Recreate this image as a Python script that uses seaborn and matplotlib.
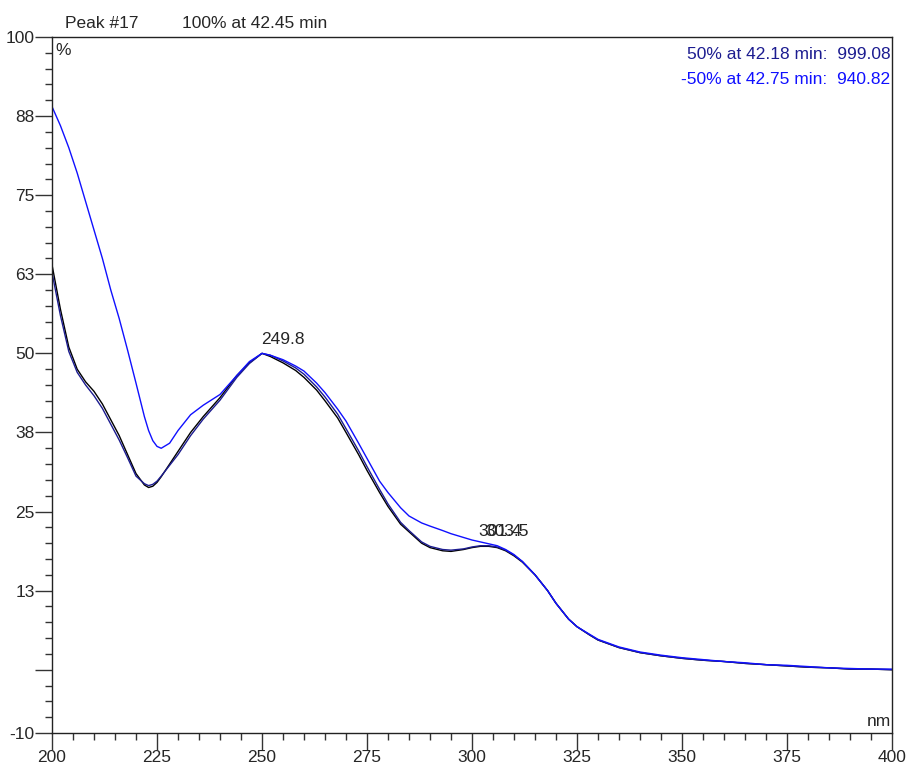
import numpy as np
import pandas as pd
import seaborn as sns
import matplotlib.pyplot as plt
from matplotlib.ticker import MultipleLocator, FixedLocator

# wavelength grid (nm) and the three spectra (% of max)
wavelengths = [200, 202, 204, 206, 208, 210, 212, 214, 216, 218, 220, 222, 223, 224, 225, 226, 228, 230,
               233, 236, 240, 244, 247, 250, 252, 255, 258, 260, 263, 265, 268, 270, 273, 275, 278, 280,
               283, 285, 288, 290, 293, 295, 298, 300, 302, 304, 306, 308, 310, 312, 315, 318, 320, 323,
               325, 328, 330, 335, 340, 345, 350, 355, 360, 365, 370, 375, 380, 385, 390, 395, 400]
peak_apex = [64.0, 57.0, 51.0, 47.5, 45.5, 44.0, 42.0, 39.5, 37.0, 34.0, 31.0, 29.2, 28.8, 29.0, 29.6, 30.5,
             32.5, 34.5, 37.5, 40.0, 43.0, 46.5, 48.5, 50.0, 49.5, 48.5, 47.3, 46.2, 44.2, 42.5, 39.8, 37.5,
             34.0, 31.5, 28.0, 25.8, 23.0, 21.8, 20.0, 19.3, 18.8, 18.7, 19.0, 19.3, 19.5, 19.5, 19.3, 18.8,
             18.0, 17.0, 15.0, 12.5, 10.5, 8.0, 6.8, 5.5, 4.7, 3.5, 2.7, 2.2, 1.8, 1.5, 1.3, 1.0, 0.8, 0.6,
             0.4, 0.3, 0.1, 0.1, 0.0]
upslope_50 = [62.8, 56.0, 50.3, 47.0, 45.0, 43.3, 41.3, 38.8, 36.3, 33.5, 30.6, 29.4, 29.1, 29.3, 29.8, 30.6,
              32.3, 34.0, 37.0, 39.6, 42.6, 46.2, 48.4, 50.0, 49.7, 48.8, 47.7, 46.7, 44.7, 43.1, 40.4, 38.1,
              34.6, 32.1, 28.5, 26.2, 23.3, 22.0, 20.2, 19.5, 19.0, 18.9, 19.1, 19.4, 19.6, 19.6, 19.4, 18.9,
              18.1, 17.1, 15.0, 12.5, 10.5, 8.0, 6.8, 5.5, 4.7, 3.5, 2.7, 2.2, 1.8, 1.5, 1.3, 1.0, 0.8, 0.6,
              0.4, 0.3, 0.1, 0.1, 0.0]
downslope_50 = [89.0, 86.0, 82.5, 78.5, 74.0, 69.5, 65.0, 60.0, 55.5, 50.5, 45.3, 40.0, 37.8, 36.2, 35.3, 35.0,
                35.8, 37.8, 40.3, 41.8, 43.5, 46.5, 48.7, 50.0, 49.7, 49.0, 48.0, 47.2, 45.3, 43.8, 41.2, 39.3,
                35.8, 33.4, 29.8, 28.0, 25.6, 24.3, 23.2, 22.7, 22.0, 21.5, 20.9, 20.5, 20.2, 19.9, 19.6, 19.0,
                18.2, 17.1, 15.0, 12.5, 10.5, 8.0, 6.8, 5.6, 4.8, 3.6, 2.8, 2.3, 1.9, 1.6, 1.3, 1.1, 0.8, 0.7,
                0.5, 0.3, 0.2, 0.1, 0.1]

y_major = [100, 87.5, 75, 62.5, 50, 37.5, 25, 12.5, 0, -10]
y_labels = ['100', '88', '75', '63', '50', '38', '25', '13', '', '-10']

sns.set_style('ticks')
plt.rcParams['font.family'] = ['Liberation Sans', 'DejaVu Sans']

fig = plt.figure(figsize=(9.12, 7.69), dpi=100)
ax = fig.add_axes([52 / 912, 36 / 769, 840 / 912, 696 / 769])

df = pd.DataFrame({'nm': wavelengths, 'apex': peak_apex, 'up': upslope_50, 'down': downslope_50})
sns.lineplot(data=df, x='nm', y='apex', color='black', lw=1.0, ax=ax)
sns.lineplot(data=df, x='nm', y='up', color='#1c1c90', lw=1.0, ax=ax)
sns.lineplot(data=df, x='nm', y='down', color='#1010ff', lw=1.0, ax=ax)

ax.set_xlim(200, 400)
ax.set_ylim(-10, 100)
ax.set_xlabel('')
ax.set_ylabel('')
ax.xaxis.set_major_locator(MultipleLocator(25))
ax.xaxis.set_minor_locator(MultipleLocator(5))
ax.yaxis.set_major_locator(FixedLocator(y_major))
ax.set_yticklabels(y_labels)
ax.yaxis.set_minor_locator(FixedLocator(list(np.arange(-7.5, 100, 2.5))))
ax.tick_params(which='major', length=12, width=1, color='#333333', labelsize=12.5, pad=0.5)
ax.tick_params(which='minor', length=5, width=1, color='#333333')
for s in ax.spines.values():
    s.set_visible(True)
    s.set_linewidth(1)
    s.set_color('#222222')

# annotations
ax.text(249.8, 51.0, '249.8', fontsize=12.5, ha='left', va='bottom')
ax.text(301.4, 20.6, '301.4', fontsize=12.5, ha='left', va='bottom')
ax.text(303.2, 20.6, '303.5', fontsize=12.5, ha='left', va='bottom')
ax.text(0.004, 0.992, '%', transform=ax.transAxes, fontsize=12.5, ha='left', va='top')
ax.text(0.999, 0.006, 'nm', transform=ax.transAxes, fontsize=12.5, ha='right', va='bottom')
ax.text(0.998, 0.985, '50% at 42.18 min:  999.08', transform=ax.transAxes, fontsize=12.5,
        ha='right', va='top', color='#1c1c90')
ax.text(0.998, 0.950, '-50% at 42.75 min:  940.82', transform=ax.transAxes, fontsize=12.5,
        ha='right', va='top', color='#1010ff')
fig.text(65 / 912, 1 - 23 / 769, 'Peak #17', fontsize=12.5, ha='left', va='center')
fig.text(182 / 912, 1 - 23 / 769, '100% at 42.45 min', fontsize=12.5, ha='left', va='center')

fig.savefig('out.png', dpi=100)
